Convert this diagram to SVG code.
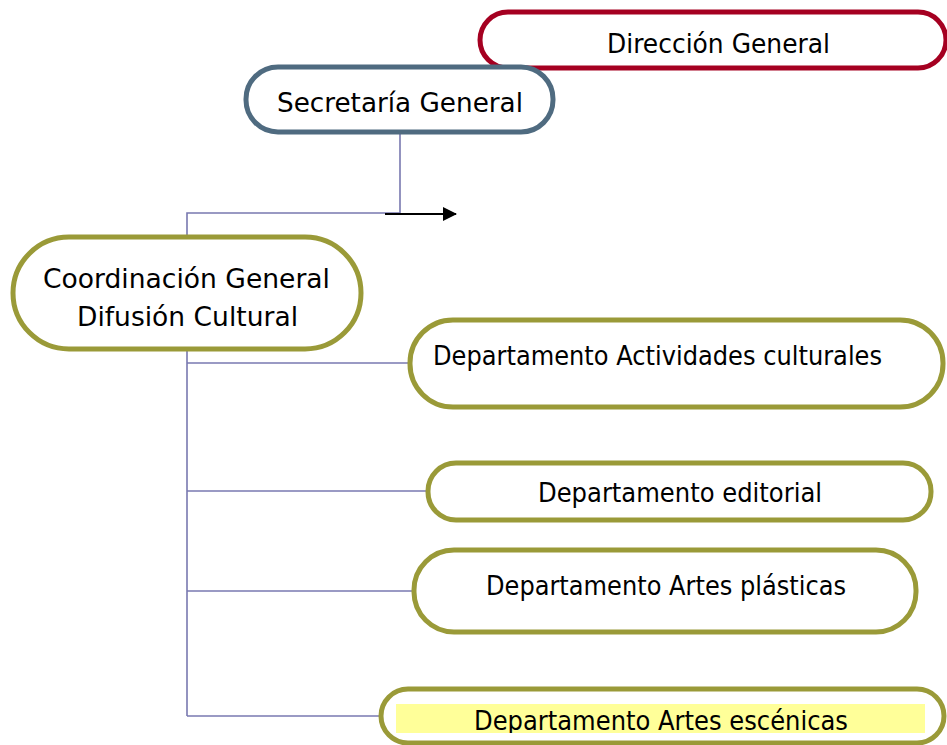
<svg xmlns="http://www.w3.org/2000/svg" width="947" height="745" viewBox="0 0 947 745">
<style>
.box{fill:#fff;stroke-width:5}
.red{stroke:#A50021}
.slate{stroke:#4F6B80}
.olive{stroke:#9A9A38}
.t{font-family:"DejaVu Sans","Liberation Sans",sans-serif;font-size:26px;fill:#000}
.c{stroke:#7878B0;stroke-width:1.6;fill:none}
</style>
<defs>
<marker id="arr" markerWidth="14" markerHeight="14" refX="13" refY="7" orient="auto" markerUnits="userSpaceOnUse">
<path d="M0,0 L14,7 L0,14 Z" fill="#000"/>
</marker>
<clipPath id="hl"><rect x="396" y="704" width="529" height="29"/></clipPath>
</defs>
<rect width="947" height="745" fill="#fff"/>
<g id="connectors">
<path class="c" d="M400,134 V213 H187 V237"/>
<path class="c" d="M187,350 V716"/>
<path class="c" d="M187,363 H410"/>
<path class="c" d="M187,491 H428"/>
<path class="c" d="M187,591 H414"/>
<path class="c" d="M187,716 H381"/>
<line x1="385" y1="214" x2="456" y2="214" stroke="#000" stroke-width="2" marker-end="url(#arr)"/>
</g>
<g id="direccion">
<rect class="box red" x="480" y="12" width="466" height="56" rx="28"/>
<text class="t" x="607" y="53" textLength="223" lengthAdjust="spacingAndGlyphs">Dirección General</text>
</g>
<g id="secretaria">
<rect class="box slate" x="246" y="67" width="307" height="65" rx="32"/>
<text class="t" x="277" y="112" textLength="246" lengthAdjust="spacingAndGlyphs">Secretaría General</text>
</g>
<g id="coordinacion">
<rect class="box olive" x="13" y="237" width="348" height="112" rx="56"/>
<text class="t" x="43" y="288" textLength="287" lengthAdjust="spacingAndGlyphs">Coordinación General</text>
<text class="t" x="77" y="326" textLength="221" lengthAdjust="spacingAndGlyphs">Difusión Cultural</text>
</g>
<g id="actividades">
<rect class="box olive" x="410" y="320" width="533" height="87" rx="43"/>
<text class="t" x="433" y="365" textLength="449" lengthAdjust="spacingAndGlyphs">Departamento Actividades culturales</text>
</g>
<g id="editorial">
<rect class="box olive" x="428" y="463" width="503" height="57" rx="28"/>
<text class="t" x="538" y="502" textLength="284" lengthAdjust="spacingAndGlyphs">Departamento editorial</text>
</g>
<g id="plasticas">
<rect class="box olive" x="414" y="550" width="502" height="82" rx="40"/>
<text class="t" x="486" y="595" textLength="360" lengthAdjust="spacingAndGlyphs">Departamento Artes plásticas</text>
</g>
<g id="escenicas">
<rect class="box olive" x="381" y="689" width="563" height="54" rx="27"/>
<rect x="396" y="704" width="529" height="29" fill="#FFFF99"/>
<text class="t" x="474" y="730" textLength="374" lengthAdjust="spacingAndGlyphs" clip-path="url(#hl)">Departamento Artes escénicas</text>
</g>
</svg>
